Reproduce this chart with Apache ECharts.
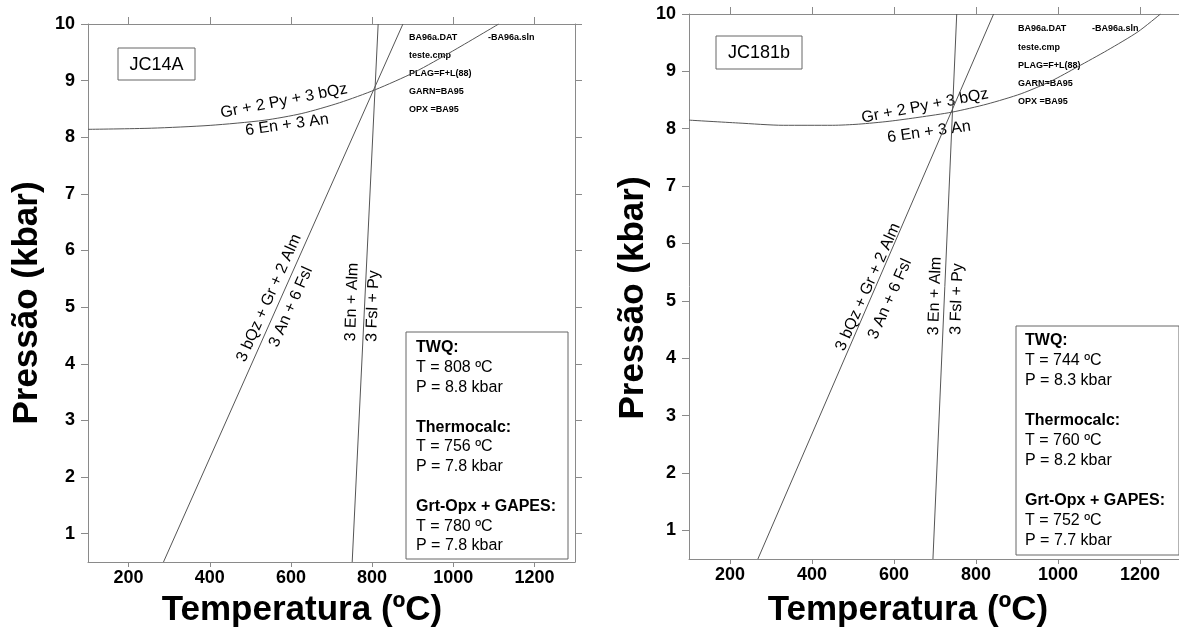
<!DOCTYPE html>
<html>
<head>
<meta charset="utf-8">
<script src="https://cdn.jsdelivr.net/npm/echarts@6/dist/echarts.min.js"></script>
<style>
html, body { margin: 0; padding: 0; background: #fff; }
#chart { width: 1179px; height: 629px; }
</style>
</head>
<body>
<div id="chart"></div>
<script>
// axis ticks
const tempTicks = [200, 400, 600, 800, 1000, 1200];
const pressTicks = [1, 2, 3, 4, 5, 6, 7, 8, 9, 10];

// JC14A reaction curves [T (ºC), P (kbar)]
const jc14aGrPyQz = [[100, 8.14], [256, 8.16], [401, 8.21], [534, 8.30], [627, 8.42], [720, 8.61], [808, 8.84], [905, 9.15], [998, 9.52], [1112, 10]];
const jc14aQzGrAlm = [[286, 0.5], [876, 10]];
const jc14aEnAlm = [[751, 0.5], [815, 10]];

// JC181b reaction curves
const jc181bGrPyQz = [[100, 8.15], [220, 8.10], [330, 8.06], [450, 8.06], [514, 8.08], [588, 8.13], [661, 8.20], [742, 8.29], [827, 8.43], [910, 8.61], [983, 8.83], [1048, 9.08], [1121, 9.37], [1195, 9.69], [1250, 10]];
const jc181bQzGrAlm = [[268, 0.5], [843, 10]];
const jc181bEnAlm = [[695, 0.5], [753, 10]];

// texts
const sampleNames = ['JC14A', 'JC181b'];
const reactionLabels = ['Gr + 2 Py + 3 bQz', '6 En + 3 An', '3 bQz + Gr + 2 Alm', '3 An + 6 Fsl', '3 En + Alm', '3 Fsl + Py'];
const twqInfo = ['BA96a.DAT', 'teste.cmp', 'PLAG=F+L(88)', 'GARN=BA95', 'OPX =BA95'];
const twqSolution = '-BA96a.sln';
const jc14aResults = [['TWQ:', 'T = 808 ºC', 'P = 8.8 kbar'], ['Thermocalc:', 'T = 756 ºC', 'P = 7.8 kbar'], ['Grt-Opx + GAPES:', 'T = 780 ºC', 'P = 7.8 kbar']];
const jc181bResults = [['TWQ:', 'T = 744 ºC', 'P = 8.3 kbar'], ['Thermocalc:', 'T = 760 ºC', 'P = 8.2 kbar'], ['Grt-Opx + GAPES:', 'T = 752 ºC', 'P = 7.7 kbar']];

const FONT = '"Liberation Sans", Arial, sans-serif';
const NARROW = '"Liberation Sans Narrow", "Arial Narrow", "Liberation Sans", sans-serif';
const AXIS_COLOR = '#8a8a8a';
const LINE_COLOR = '#555';

const grids = [
    { left: 88, top: 24, width: 487, height: 538 },
    { left: 689, top: 14, width: 492, height: 545 }
];

function xAxes(gridIndex) {
    const base = {
        type: 'value', gridIndex: gridIndex, min: 100, max: 1300,
        splitLine: { show: false },
        axisLine: { show: true, lineStyle: { color: AXIS_COLOR, width: 1 } }
    };
    return [
        Object.assign({}, base, {
            position: 'bottom',
            axisTick: { show: true, length: 5, customValues: tempTicks, lineStyle: { color: AXIS_COLOR } },
            axisLabel: {
                customValues: tempTicks, margin: 7, color: '#000', fontWeight: 'bold', fontSize: 18, fontFamily: FONT,
                formatter: function (v) { return String(v); }
            }
        }),
        Object.assign({}, base, {
            position: 'top',
            axisTick: { show: true, length: 7, customValues: tempTicks, lineStyle: { color: AXIS_COLOR } },
            axisLabel: { show: false }
        })
    ];
}

function yAxes(gridIndex) {
    const base = {
        type: 'value', gridIndex: gridIndex, min: 0.5, max: 10,
        splitLine: { show: false },
        axisLine: { show: true, lineStyle: { color: AXIS_COLOR, width: 1 } }
    };
    return [
        Object.assign({}, base, {
            position: 'left',
            axisTick: { show: true, length: 7, customValues: pressTicks, lineStyle: { color: AXIS_COLOR } },
            axisLabel: {
                customValues: pressTicks, margin: 13, color: '#000', fontWeight: 'bold', fontSize: 18, fontFamily: FONT,
                formatter: function (v) { return String(v); }
            }
        }),
        Object.assign({}, base, {
            position: 'right',
            axisTick: { show: true, length: 7, customValues: pressTicks, lineStyle: { color: AXIS_COLOR } },
            axisLabel: { show: false }
        })
    ];
}

function curve(data, axisIndex, smooth) {
    return {
        type: 'line', data: data, xAxisIndex: axisIndex, yAxisIndex: axisIndex,
        showSymbol: false, smooth: smooth ? 0.25 : false,
        lineStyle: { color: LINE_COLOR, width: 1 }, silent: true, animation: false, clip: true
    };
}

function text(str, x, y, opts) {
    opts = opts || {};
    return {
        type: 'text', x: x, y: y, rotation: (opts.rot || 0) * Math.PI / 180, silent: true,
        style: {
            text: str, fill: '#000',
            font: opts.font || ('16px ' + FONT),
            align: opts.align || 'center', verticalAlign: 'middle',
            textAlign: opts.align || 'center', textVerticalAlign: 'middle'
        }
    };
}

function box(x, y, w, h) {
    return { type: 'rect', shape: { x: x, y: y, width: w, height: h }, style: { fill: '#fff', stroke: '#666', lineWidth: 1 }, silent: true };
}

function panelGraphics(p) {
    const g = [];
    // axis titles
    g.push(text('Pressão (kbar)', p.yTitle[0], p.yTitle[1], { rot: 90, font: 'bold 35px ' + FONT }));
    g.push(text('Temperatura (ºC)', p.xTitle[0], p.xTitle[1], { font: 'bold 35px ' + FONT }));
    // sample name
    g.push(box(p.nameBox[0], p.nameBox[1], p.nameBox[2], p.nameBox[3]));
    g.push(text(p.name, p.nameBox[0] + p.nameBox[2] / 2, p.nameBox[1] + p.nameBox[3] / 2 + 1, { font: '18px ' + FONT }));
    // reaction labels
    p.reactions.forEach(function (r, i) {
        g.push(text(reactionLabels[i], r[0], r[1], { rot: r[2] }));
    });
    // TWQ run info
    twqInfo.forEach(function (s, i) {
        g.push(text(s, p.info[0], p.info[1] + i * p.info[2], { align: 'left', font: 'bold 9px ' + NARROW }));
    });
    g.push(text(twqSolution, p.info[3], p.info[1], { align: 'left', font: 'bold 9px ' + NARROW }));
    // results box
    g.push(box(p.resBox[0], p.resBox[1], p.resBox[2], p.resBox[3]));
    let row = 0;
    p.results.forEach(function (block) {
        block.forEach(function (s, j) {
            g.push(text(s, p.resText[0], p.resText[1] + row * p.resText[2], {
                align: 'left', font: (j === 0 ? 'bold ' : '') + '16px ' + FONT
            }));
            row++;
        });
        row++;
    });
    return g;
}

const panels = [
    {
        name: sampleNames[0], results: jc14aResults,
        yTitle: [27, 303], xTitle: [302, 610],
        nameBox: [118, 48, 77, 32],
        reactions: [[284, 101, 11], [287, 125, 8], [269, 298, 66], [291, 307, 66], [352, 302, 88], [373, 306, 88]],
        info: [409, 38, 18, 488],
        resBox: [406, 332, 162, 227],
        resText: [416, 348, 19.8]
    },
    {
        name: sampleNames[1], results: jc181bResults,
        yTitle: [633, 298], xTitle: [908, 610],
        nameBox: [716, 36, 86, 33],
        reactions: [[925, 106, 11], [929, 132, 8], [868, 287, 66], [890, 299, 66], [935, 296, 88], [957, 299, 88]],
        info: [1018, 29, 18.2, 1092],
        resBox: [1016, 326, 163, 229],
        resText: [1025, 341, 20]
    }
];

const chart = echarts.init(document.getElementById('chart'), null, { renderer: 'canvas' });
chart.setOption({
    animation: false,
    backgroundColor: '#fff',
    grid: grids.map(function (g) { return Object.assign({ containLabel: false, outerBoundsMode: 'none' }, g); }),
    xAxis: xAxes(0).concat(xAxes(1)),
    yAxis: yAxes(0).concat(yAxes(1)),
    series: [
        curve(jc14aGrPyQz, 0, true),
        curve(jc14aQzGrAlm, 0, false),
        curve(jc14aEnAlm, 0, false),
        curve(jc181bGrPyQz, 2, true),
        curve(jc181bQzGrAlm, 2, false),
        curve(jc181bEnAlm, 2, false)
    ],
    graphic: panelGraphics(panels[0]).concat(panelGraphics(panels[1]))
});
</script>
</body>
</html>
